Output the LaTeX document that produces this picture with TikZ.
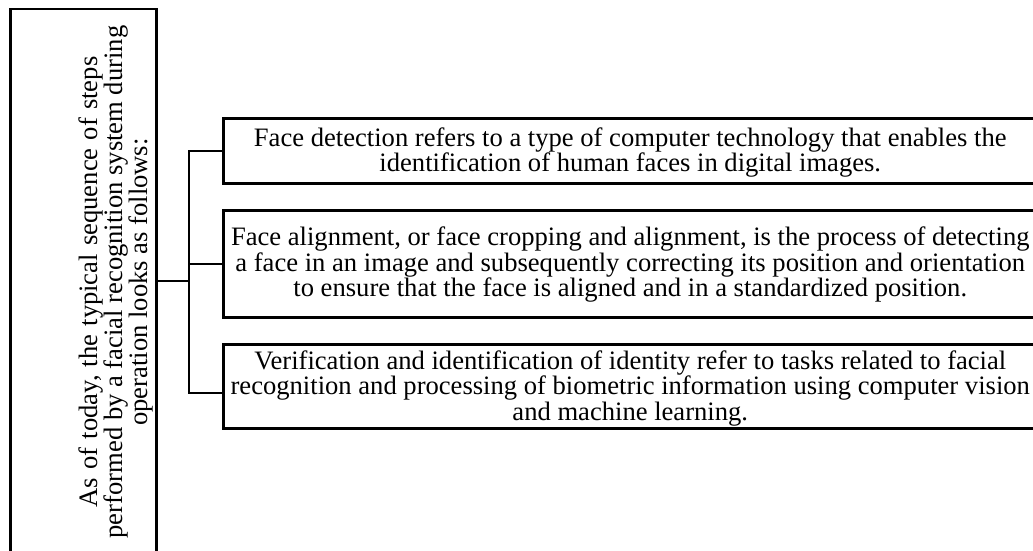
\documentclass[tikz,border=0pt]{standalone}
\usepackage{fontspec}
\setmainfont{Liberation Serif}
\begin{document}
\begin{tikzpicture}[x=1pt,y=-1pt,
  box/.style={draw=black, line width=2.5pt, inner sep=0pt, anchor=north west},
  txt/.style={align=center, font=\fontsize{26.6}{25.3}\selectfont, inner sep=0pt},
  link/.style={line width=2.5pt}]
\useasboundingbox (0,0) rectangle (1033,551);
\clip (0,0) rectangle (1033,551);
\node[box, minimum width=146pt, minimum height=546pt] (L) at (9,8) {};
\node[txt, rotate=90] (Lt) at (116,282) {{\spaceskip=8.2pt As of today, the typical sequence of steps}\\performed by a facial recognition system during\\operation looks as follows:};
\node[box, minimum width=814pt, minimum height=65pt] (b1) at (222,117) {};
\node[txt] (t1) at ([yshift=-2pt]b1.center) {Face detection refers to a type of computer technology that enables the\\identification of human faces in digital images.};
\node[box, minimum width=814pt, minimum height=107pt] (b2) at (222,209) {};
\node[txt] (t2) at ([yshift=-1pt]b2.center) {Face alignment, or face cropping and alignment, is the process of detecting\\a face in an image and subsequently correcting its position and orientation\\to ensure that the face is aligned and in a standardized position.};
\node[box, minimum width=814pt, minimum height=84pt] (b3) at (222,343) {};
\node[txt] (t3) at ([yshift=-2pt]b3.center) {Verification and identification of identity refer to tasks related to facial\\recognition and processing of biometric information using computer vision\\and machine learning.};
\coordinate (v) at (189,281);
\coordinate (j3) at (189,393);
\draw[link] (L.east |- v) -- (v);
\draw[link] (b1.west) -- (b1.west -| v) -- (j3) -- (j3 -| b3.west);
\draw[link] (b2.west) -- (b2.west -| v);
\end{tikzpicture}
\end{document}
